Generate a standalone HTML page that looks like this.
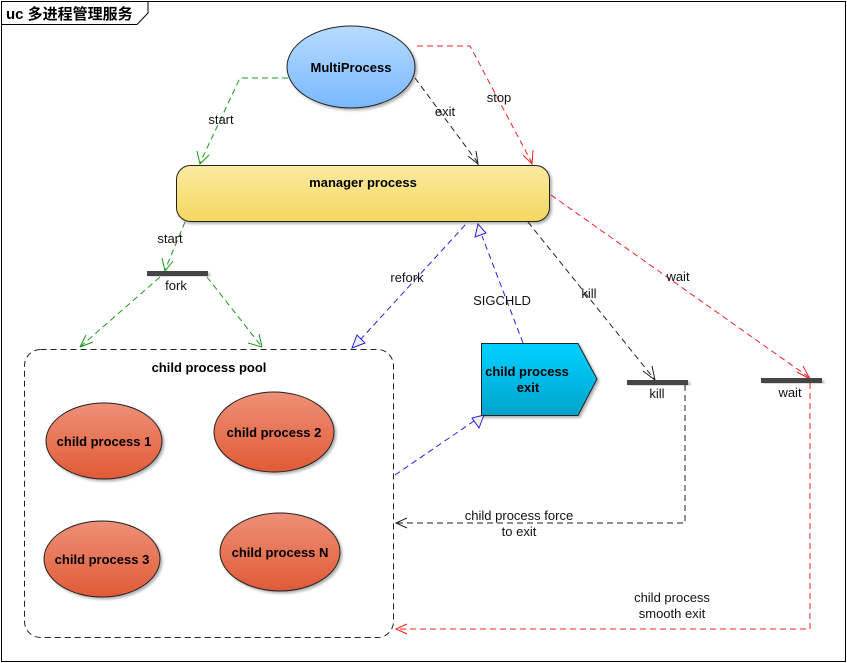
<!DOCTYPE html>
<html><head><meta charset="utf-8"><style>
html,body{margin:0;padding:0;background:#fff;}
svg{display:block;font-family:"Liberation Sans","Noto Sans CJK SC",sans-serif;}
</style></head><body>
<svg width="847" height="663" viewBox="0 0 847 663" xmlns="http://www.w3.org/2000/svg">
<defs>
<linearGradient id="gb" x1="0" y1="0" x2="0" y2="1"><stop offset="0" stop-color="#b8dbff"/><stop offset="1" stop-color="#78b8ff"/></linearGradient>
<linearGradient id="gy" x1="0" y1="0" x2="0" y2="1"><stop offset="0" stop-color="#fbeaa0"/><stop offset="1" stop-color="#f4d860"/></linearGradient>
<linearGradient id="gr" x1="0" y1="0" x2="0" y2="1"><stop offset="0" stop-color="#ee9077"/><stop offset="1" stop-color="#e05a36"/></linearGradient>
<linearGradient id="gc" x1="0" y1="0" x2="0" y2="1"><stop offset="0" stop-color="#00d0ff"/><stop offset="1" stop-color="#00a4cc"/></linearGradient>
<filter id="sh"><feDropShadow dx="2" dy="2" stdDeviation="1.2" flood-color="#000" flood-opacity="0.3"/></filter>
</defs>
<rect x="1.5" y="1.5" width="844" height="660" fill="#fff" stroke="#000"/>
<path d="M1.5 24.5 H137 L148 13 V1.5" fill="none" stroke="#000"/>
<text x="6" y="19" font-size="15" font-weight="bold">uc 多进程管理服务</text>

<g fill="none" stroke-dasharray="6,4" stroke-width="1">
<path d="M288 78 H240 L200 163" stroke="#1a9a1a"/>
<path d="M415 78 L478 163" stroke="#222"/>
<path d="M417 46 H470 L532 163" stroke="#f02020"/>
<path d="M185 222 L165 270" stroke="#1a9a1a"/>
<path d="M160 277 L80 347" stroke="#1a9a1a"/>
<path d="M207 277 L262 347" stroke="#1a9a1a"/>
<path d="M360 340 L466 224" stroke="#2020ee"/>
<path d="M523 343 L482 236" stroke="#2020ee"/>
<path d="M395 475 L474 421" stroke="#2020ee"/>
<path d="M528 222 L655 380" stroke="#222"/>
<path d="M551 195 L810 378" stroke="#f02020"/>
<path d="M685 385 V523 H397" stroke="#222"/>
<path d="M810 383 V629 H397" stroke="#f02020"/>
</g>
<g fill="none" stroke-width="1">
<path d="M197 151 L200 164 L209 155" stroke="#1a9a1a"/>
<path d="M468 156 L478 164 L476 151" stroke="#222"/>
<path d="M523 155 L532 164 L533 150" stroke="#f02020"/>
<path d="M162 258 L165 271 L173 261" stroke="#1a9a1a"/>
<path d="M80 347 L86 335 M80 347 L93 342" stroke="#1a9a1a"/>
<path d="M262 347 L248 343 M262 347 L259 334" stroke="#1a9a1a"/>
<path d="M643 371 L655 380 L652 366" stroke="#222"/>
<path d="M797 372 L810 379 L803 366" stroke="#f02020"/>
<path d="M407 518 L396 523 L407 528" stroke="#222"/>
<path d="M407 624 L396 629 L407 634" stroke="#f02020"/>
</g>
<g fill="#f5efe6" stroke="#2020ee">
<path d="M352 348 L357 335 L365 343 Z"/>
<path d="M478 224 L475 237 L486 233 Z"/>
<path d="M484 415 L472 418 L479 428 Z"/>
</g>

<ellipse cx="351" cy="67" rx="64" ry="41" fill="url(#gb)" stroke="#222" filter="url(#sh)"/>
<text x="351" y="72" font-size="13" font-weight="bold" text-anchor="middle">MultiProcess</text>
<rect x="176.5" y="165.5" width="373" height="56" rx="14" fill="url(#gy)" stroke="#222" filter="url(#sh)"/>
<text x="363" y="187" font-size="13" font-weight="bold" text-anchor="middle">manager process</text>

<rect x="147" y="271" width="61" height="5" fill="#444" filter="url(#sh)"/>
<rect x="627" y="380" width="61" height="5" fill="#444" filter="url(#sh)"/>
<rect x="761" y="378" width="61" height="5" fill="#444" filter="url(#sh)"/>

<rect x="24.5" y="349.5" width="369" height="288" rx="16" fill="none" stroke="#222" stroke-dasharray="6,4"/>
<text x="209" y="372" font-size="13" font-weight="bold" text-anchor="middle">child process pool</text>
<g fill="url(#gr)" stroke="#222" filter="url(#sh)">
<ellipse cx="104" cy="441" rx="58" ry="38"/>
<ellipse cx="274" cy="432" rx="60" ry="40"/>
<ellipse cx="102" cy="559" rx="58" ry="38"/>
<ellipse cx="280" cy="552" rx="60" ry="39"/>
</g>
<g font-size="13" font-weight="bold" text-anchor="middle">
<text x="104" y="446">child process 1</text>
<text x="274" y="437">child process 2</text>
<text x="102" y="564">child process 3</text>
<text x="280" y="557">child process N</text>
</g>
<path d="M481.5 343.5 H578 L597 379 L578 415.5 H481.5 Z" fill="url(#gc)" stroke="#222" filter="url(#sh)"/>
<text x="527" y="376" font-size="13" font-weight="bold" text-anchor="middle">child process</text>
<text x="528" y="392" font-size="13" font-weight="bold" text-anchor="middle">exit</text>

<g font-size="13" text-anchor="middle" fill="#111">
<text x="221" y="124">start</text>
<text x="445" y="116">exit</text>
<text x="499" y="102">stop</text>
<text x="170" y="243">start</text>
<text x="176" y="290">fork</text>
<text x="407" y="282">refork</text>
<text x="502" y="305">SIGCHLD</text>
<text x="589" y="298">kill</text>
<text x="678" y="281">wait</text>
<text x="657" y="398">kill</text>
<text x="790" y="397">wait</text>
<text x="519" y="520">child process force</text>
<text x="519" y="536">to exit</text>
<text x="672" y="602">child process</text>
<text x="672" y="618">smooth exit</text>
</g>
</svg>
</body></html>
